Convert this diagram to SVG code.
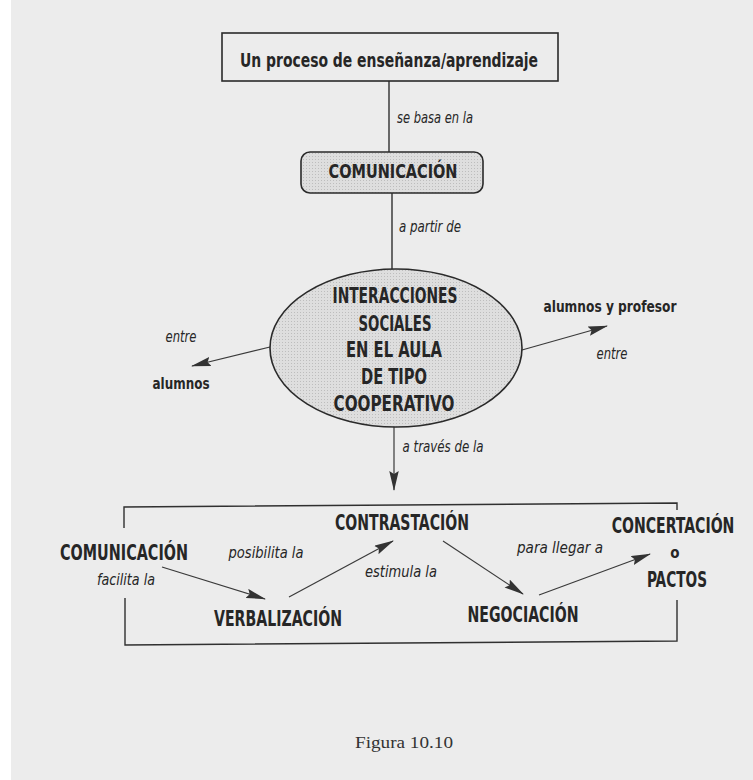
<svg xmlns="http://www.w3.org/2000/svg" width="753" height="780" viewBox="0 0 753 780">
<defs>
<marker id="ah" markerUnits="userSpaceOnUse" markerWidth="20" markerHeight="10" refX="19" refY="4.75" orient="auto">
<path d="M0,0 L20,4.75 L0,9.5 L3,4.75 Z" fill="#333"/>
</marker>
<pattern id="dots" width="3" height="3" patternUnits="userSpaceOnUse">
<rect width="3" height="3" fill="#dedede"/>
<rect width="1" height="1" fill="#bdbdbd"/>
</pattern>
<style>
.b{font-family:"DejaVu Sans Condensed","DejaVu Sans","Liberation Sans",sans-serif;font-stretch:condensed;font-weight:bold;fill:#262626;text-anchor:middle}
.i{font-family:"DejaVu Sans Condensed","DejaVu Sans","Liberation Sans",sans-serif;font-stretch:condensed;font-style:italic;fill:#262626;text-anchor:middle;font-size:16.5px}
.ln{stroke:#303030;stroke-width:1.4;fill:none}
.ar{stroke:#3a3a3a;stroke-width:1.2;fill:none;marker-end:url(#ah)}
</style>
</defs>
<rect width="753" height="780" fill="#ffffff"/>
<rect x="11" y="0" width="742" height="780" fill="#ececec"/>

<g id="connectors">
<line class="ln" x1="389" y1="81" x2="389" y2="152"/>
<line class="ln" x1="392" y1="193" x2="392" y2="270"/>
<line class="ar" x1="394" y1="427" x2="394" y2="490"/>
<line class="ar" x1="270" y1="347" x2="192" y2="366"/>
<line class="ar" x1="522" y1="350" x2="607" y2="326"/>
<line class="ar" x1="162" y1="567" x2="265" y2="599"/>
<line class="ar" x1="289" y1="597" x2="393" y2="541"/>
<line class="ar" x1="443" y1="541" x2="523" y2="594"/>
<line class="ar" x1="539" y1="595" x2="650" y2="554"/>
<text class="i" x="435" y="123" textLength="76" lengthAdjust="spacingAndGlyphs">se basa en la</text>
<text class="i" x="430" y="232" textLength="62" lengthAdjust="spacingAndGlyphs">a partir de</text>
<text class="i" x="443" y="452" textLength="81" lengthAdjust="spacingAndGlyphs">a través de la</text>
<text class="i" x="181" y="342" textLength="31" lengthAdjust="spacingAndGlyphs">entre</text>
<text class="i" x="612" y="359" textLength="31" lengthAdjust="spacingAndGlyphs">entre</text>
<text class="i" x="126" y="585" textLength="58" lengthAdjust="spacingAndGlyphs">facilita la</text>
<text class="i" x="266" y="558" textLength="75" lengthAdjust="spacingAndGlyphs">posibilita la</text>
<text class="i" x="401" y="577" textLength="72" lengthAdjust="spacingAndGlyphs">estimula la</text>
<text class="i" x="560" y="553" textLength="86" lengthAdjust="spacingAndGlyphs">para llegar a</text>
</g>

<g id="n-proceso">
<rect x="222" y="33" width="336" height="48" fill="none" stroke="#2a2a2a" stroke-width="1.6"/>
<text class="b" x="389" y="67" font-size="19" textLength="298" lengthAdjust="spacingAndGlyphs">Un proceso de enseñanza/aprendizaje</text>
</g>

<g id="n-comunicacion">
<rect x="301" y="152" width="182" height="41" rx="9" fill="url(#dots)" stroke="#2a2a2a" stroke-width="1.6"/>
<text class="b" x="393" y="178" font-size="19" textLength="129" lengthAdjust="spacingAndGlyphs">COMUNICACIÓN</text>
</g>

<g id="n-interacciones">
<ellipse cx="396" cy="348" rx="126" ry="79" fill="url(#dots)" stroke="#2a2a2a" stroke-width="1.6"/>
<text class="b" x="395" y="303" font-size="22" textLength="125" lengthAdjust="spacingAndGlyphs">INTERACCIONES</text>
<text class="b" x="395" y="331" font-size="22" textLength="73" lengthAdjust="spacingAndGlyphs">SOCIALES</text>
<text class="b" x="394" y="357" font-size="22" textLength="96" lengthAdjust="spacingAndGlyphs">EN EL AULA</text>
<text class="b" x="394" y="384" font-size="22" textLength="66" lengthAdjust="spacingAndGlyphs">DE TIPO</text>
<text class="b" x="394" y="411" font-size="22" textLength="121" lengthAdjust="spacingAndGlyphs">COOPERATIVO</text>
</g>

<g id="n-alumnos">
<text class="b" x="181" y="389" font-size="16.5" textLength="57" lengthAdjust="spacingAndGlyphs">alumnos</text>
</g>

<g id="n-alumnos-profesor">
<text class="b" x="610" y="312" font-size="16.5" textLength="133" lengthAdjust="spacingAndGlyphs">alumnos y profesor</text>
</g>

<g id="n-bracket">
<polyline class="ln" points="124,528 124,507 677,503 677,510"/>
<polyline class="ln" points="125,598 125,645 677,641 677,600"/>
</g>

<g id="n-comunicacion2">
<text class="b" x="124" y="560" font-size="21" textLength="128" lengthAdjust="spacingAndGlyphs">COMUNICACIÓN</text>
</g>
<g id="n-verbalizacion">
<text class="b" x="278" y="626" font-size="21" textLength="128" lengthAdjust="spacingAndGlyphs">VERBALIZACIÓN</text>
</g>
<g id="n-contrastacion">
<text class="b" x="402" y="530" font-size="21" textLength="134" lengthAdjust="spacingAndGlyphs">CONTRASTACIÓN</text>
</g>
<g id="n-negociacion">
<text class="b" x="523" y="622" font-size="21" textLength="111" lengthAdjust="spacingAndGlyphs">NEGOCIACIÓN</text>
</g>
<g id="n-concertacion">
<text class="b" transform="translate(673,533) scale(0.66,1)" x="0" y="0" font-size="20.5" textLength="186" lengthAdjust="spacingAndGlyphs">CONCERTACIÓN</text>
<text class="b" x="675" y="558" font-size="15">o</text>
<text class="b" x="677" y="587" font-size="21" textLength="60" lengthAdjust="spacingAndGlyphs">PACTOS</text>
</g>

<text x="404" y="748" font-family="Liberation Serif, serif" font-size="16" fill="#333" text-anchor="middle" textLength="98" lengthAdjust="spacingAndGlyphs">Figura 10.10</text>
</svg>
